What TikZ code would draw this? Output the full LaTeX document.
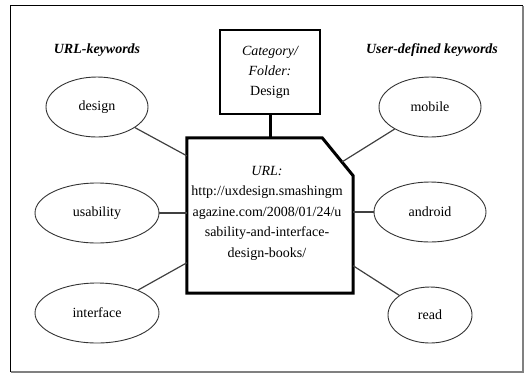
\documentclass[tikz,border=0pt]{standalone}
\usepackage{fontspec}
\setmainfont{Liberation Serif}
\usetikzlibrary{shapes.geometric,calc}
\begin{document}
\begin{tikzpicture}[x=1pt,y=-1pt,
  txt/.style={font=\fontsize{14}{16}\selectfont},
  kw/.style={ellipse,draw=black!80,line width=0.9pt,minimum height=60pt,inner sep=0pt,txt},
  head/.style={font=\fontsize{14}{16}\selectfont\bfseries\itshape},
  link/.style={draw=black!75,line width=1.2pt},
  thick link/.style={draw=black,line width=3pt}]
\useasboundingbox (0,0) rectangle (524,373);
% frame
\draw[line width=1.5pt] (10.5,372) -- (10.5,5.5) -- (523,5.5);
\draw[line width=1.5pt,black!50] (523,5.5) -- (523,372) -- (10.5,372);
% headings
\node[head] (h1) at (97,50) {URL-keywords};
\node[head] (h2) at (432,50) {User-defined keywords};
% category box
\node[draw,line width=1.1pt,minimum width=100pt,minimum height=84pt,inner sep=0pt,
      align=center,font=\fontsize{14}{20}\selectfont] (cat) at (270,72)
  {\itshape Category/\\ \itshape Folder:\\ Design};
% url box (frame drawn separately for the cut corner)
\node[minimum width=166pt,minimum height=155pt,inner sep=0pt] (url) at (270,215.5) {};
\draw[line width=3pt,line join=miter]
  (url.south west) -- (url.north west) -- ($(url.north east)+(-31,0)$)
  -- ($(url.north east)+(0,38)$) -- (url.south east) -- cycle;
\node[align=center,inner sep=0pt,font=\fontsize{14}{20.5}\selectfont] (urltext) at (267,213)
  {\textit{URL:}\\ http://uxdesign.smashingm\\ agazine.com/2008/01/24/u\\ sability-and-interface-\\ design-books/};
% keyword ellipses
\node[kw,minimum width=102pt] (design) at (97,107) {design};
\node[kw,minimum width=124pt] (usability) at (97,213) {usability};
\node[kw,minimum width=124pt] (interface) at (97,313) {interface};
\node[kw,minimum width=102pt] (mobile) at (430,107) {mobile};
\node[kw,minimum width=112pt] (android) at (430,212) {android};
\node[kw,minimum width=84pt,minimum height=56pt] (read) at (430,315) {read};
% connectors
\coordinate (pdesign) at ($(url.north west)+(0,18)$);
\coordinate (pinterface) at ($(url.north west)+(0,125)$);
\coordinate (pmobile) at ($(url.north east)+(-11,24)$);
\coordinate (pread) at ($(url.north east)+(0,128)$);
\draw[link] (design) -- (pdesign);
\draw[link] (usability) -- (url.west |- usability);
\draw[link] (interface) -- (pinterface);
\draw[link] (mobile) -- (pmobile);
\draw[link] (android) -- (url.east |- android);
\draw[link] (read) -- (pread);
\draw[thick link] (cat.south) -- (url.north);
\end{tikzpicture}
\end{document}
